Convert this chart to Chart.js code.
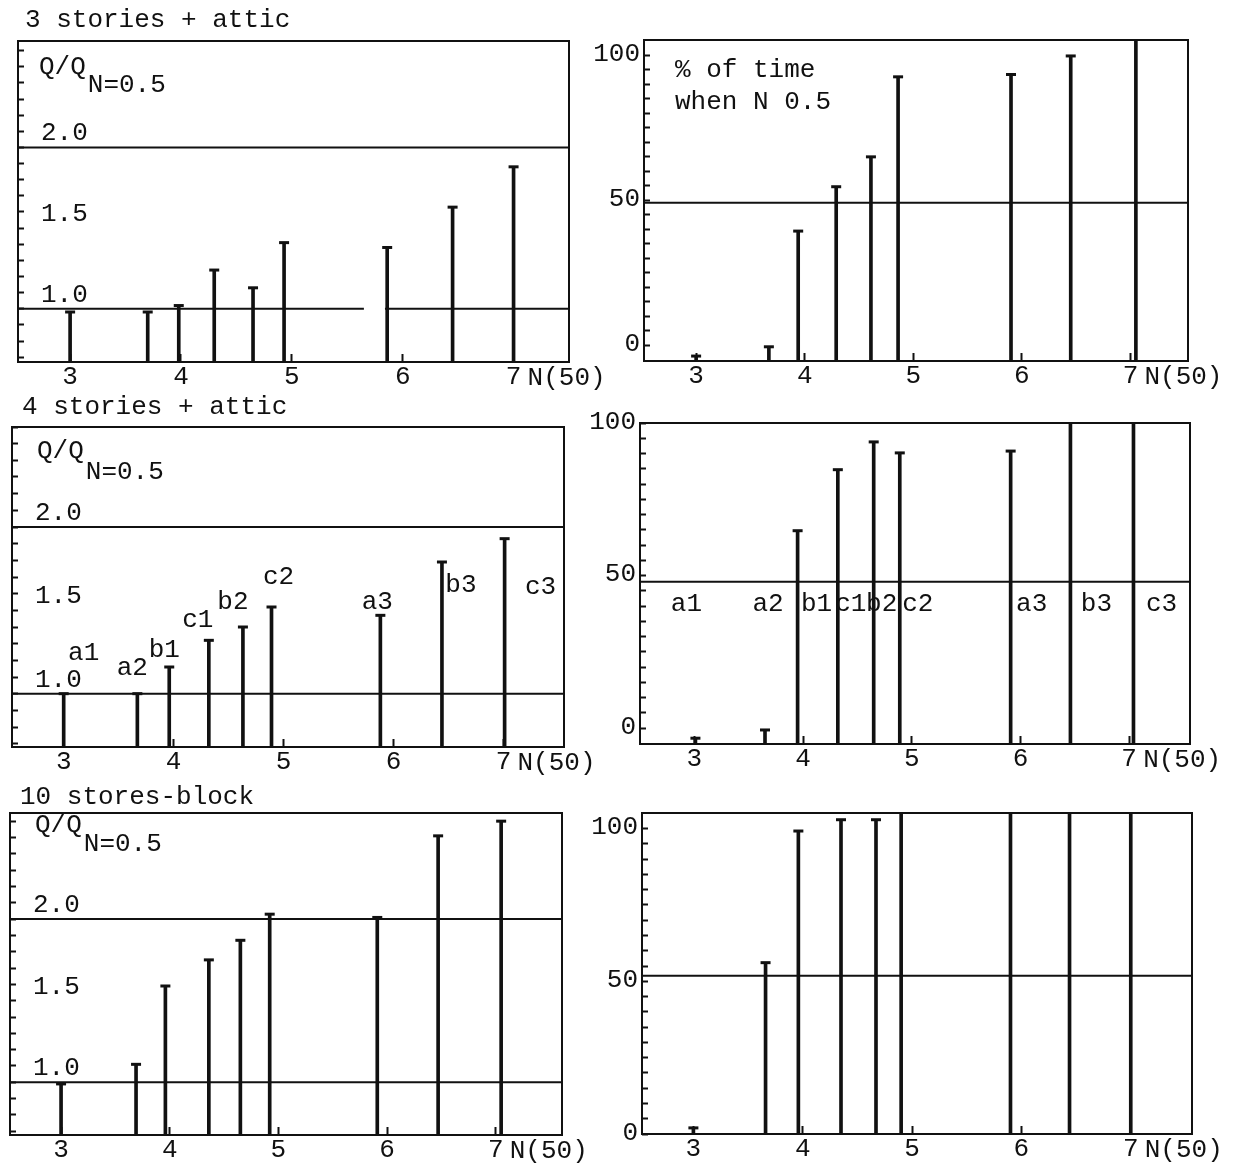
<!DOCTYPE html>
<html>
<head>
<meta charset="utf-8">
<title>Q/Q N=0.5 and % of time vs N(50)</title>
<script src="https://cdn.jsdelivr.net/npm/chart.js@4.4.1/dist/chart.umd.min.js"></script>
<style>
    html, body { margin: 0; padding: 0; background: #fff; }
    #sheet { position: relative; width: 1238px; height: 1168px; overflow: hidden; background: #fff; }
    #sheet canvas { position: absolute; }
</style>
</head>
<body>
<div id="sheet"></div>
<script>
/* ================================
   DATA
================================ */
const spikeNames = ['a1', 'a2', 'b1', 'c1', 'b2', 'c2', 'a3', 'b3', 'c3'];
const xTickValues = [3, 4, 5, 6, 7];
const ratioTickValues = [1.0, 1.5, 2.0];
const timeTickValues = [0, 50, 100];
const ratioRefLevels = [1.0, 2.0];

// 3 stories + attic
const n50Ratio3 = [3.00, 3.70, 3.98, 4.30, 4.65, 4.93, 5.86, 6.45, 7.00];
const qRatio3   = [0.98, 0.98, 1.02, 1.24, 1.13, 1.41, 1.38, 1.63, 1.88];
const ratio3Gap = [5.65, 5.84];   // the 1.0 line is broken here
const n50Time3  = [3.00, 3.67, 3.94, 4.29, 4.61, 4.86, 5.90, 6.45, 7.05];
const pctTime3  = [-3.8, -0.6, 39.3, 54.6, 64.9, 92.5, 93.3, 99.7, 106];
const timeRef3  = 49.1;

// 4 stories + attic
const n50Ratio4 = [3.00, 3.67, 3.96, 4.32, 4.63, 4.89, 5.88, 6.44, 7.01];
const qRatio4   = [1.00, 1.00, 1.16, 1.32, 1.40, 1.52, 1.47, 1.79, 1.93];
const n50Time4  = [3.01, 3.65, 3.95, 4.32, 4.65, 4.89, 5.91, 6.46, 7.04];
const pctTime4  = [-3.3, -0.6, 64.7, 84.7, 93.8, 90.2, 90.8, 100, 100];
const timeRef4  = 48.0;

// 10 stores-block
const n50Ratio10 = [3.00, 3.69, 3.96, 4.36, 4.65, 4.92, 5.91, 6.47, 7.05];
const qRatio10   = [0.99, 1.11, 1.59, 1.75, 1.87, 2.03, 2.01, 2.51, 2.60];
const n50Time10  = [3.00, 3.66, 3.96, 4.35, 4.67, 4.90, 5.90, 6.44, 7.00];
const pctTime10  = [2.0, 56.1, 99.2, 102.9, 102.9, 106, 106, 106, 106];
const timeRef10  = 51.8;

/* ================================
   LAYOUT / STYLE
================================ */
const INK = '#111';
const FAMILY = '"Liberation Mono", "DejaVu Sans Mono", monospace';
const FONT_PX = 26;
Chart.defaults.font.family = FAMILY;
Chart.defaults.color = INK;

// box / canvas are page pixels: box = [left, top, right, bottom], canvas = [left, top, width, height]
// (axis ranges must not be a whole number of steps wide, or Chart.js re-spaces the ticks)
const panels = [
    { id: 'ratio3', kind: 'ratio', xs: n50Ratio3, ys: qRatio3, refs: ratioRefLevels, gap: ratio3Gap,
      xRange: [2.53, 7.50], yRange: [0.67, 2.66],
      box: [18, 41, 569, 362], canvas: [0, 0, 625, 396],
      title: '3 stories + attic', titleAt: [7, -21], noteAt: [21, 26, 18] },
    { id: 'time3', kind: 'time', xs: n50Time3, ys: pctTime3, refs: [timeRef3],
      xRange: [2.52, 7.53], yRange: [-5.5, 105.2],
      box: [644, 40, 1188, 361], canvas: [585, 0, 653, 396],
      note: ['% of time', 'when N 0.5'], noteAt: [31, 30, 32] },
    { id: 'ratio4', kind: 'ratio', xs: n50Ratio4, ys: qRatio4, refs: ratioRefLevels,
      xRange: [2.53, 7.55], yRange: [0.68, 2.60],
      box: [12, 427, 564, 747], canvas: [0, 388, 625, 398],
      title: '4 stories + attic', titleAt: [10, -20], noteAt: [25, 24, 21],
      names: { anchor: 'top', dx: [20, -5, -5, -11, -10, 7, -3, 19, 36], dy: [-41, -26, -17, -20, -25, -30, -13, 23, 48] } },
    { id: 'time4', kind: 'time', xs: n50Time4, ys: pctTime4, refs: [timeRef4],
      xRange: [2.50, 7.56], yRange: [-5.2, 100],
      box: [640, 423, 1190, 744], canvas: [585, 388, 653, 398],
      names: { anchor: 'line', dx: [-9, 3, 19, 13, 8, 18, 21, 26, 28], dy: [22, 22, 22, 22, 22, 22, 22, 22, 22] } },
    { id: 'ratio10', kind: 'ratio', xs: n50Ratio10, ys: qRatio10, refs: ratioRefLevels,
      xRange: [2.53, 7.61], yRange: [0.677, 2.65],
      box: [10, 813, 562, 1135], canvas: [0, 778, 625, 390],
      title: '10 stores-block', titleAt: [10, -16], noteAt: [25, 12, 19] },
    { id: 'time10', kind: 'time', xs: n50Time10, ys: pctTime10, refs: [timeRef10],
      xRange: [2.53, 7.56], yRange: [0, 105.1],
      box: [642, 813, 1192, 1134], canvas: [585, 778, 653, 390] }
];

const near = (v, list) => list.some(t => Math.abs(v - t) < 1e-6);

/* ================================
   TEXT + FRAME PLUGIN
================================ */
function sheetPlugin(p) {
    return {
        id: 'sheet_' + p.id,
        afterDatasetsDraw(chart) {
            const { ctx, chartArea: a, scales } = chart;
            ctx.save();
            ctx.strokeStyle = INK;
            ctx.lineWidth = 2;
            ctx.strokeRect(a.left, a.top, a.right - a.left, a.bottom - a.top);

            ctx.fillStyle = INK;
            ctx.font = FONT_PX + 'px ' + FAMILY;
            ctx.textBaseline = 'middle';
            ctx.textAlign = 'left';

            if (p.title) ctx.fillText(p.title, a.left + p.titleAt[0], a.top + p.titleAt[1]);
            ctx.fillText('N(50)', scales.x.getPixelForValue(7) + 14, a.bottom + 16);

            if (p.kind === 'ratio') {
                const x0 = a.left + p.noteAt[0], y0 = a.top + p.noteAt[1];
                ctx.fillText('Q/Q', x0, y0);
                ctx.fillText('N=0.5', x0 + ctx.measureText('Q/Q').width + 2, y0 + p.noteAt[2]);
            } else if (p.note) {
                p.note.forEach((line, i) => ctx.fillText(line, a.left + p.noteAt[0], a.top + p.noteAt[1] + i * p.noteAt[2]));
            }

            if (p.names) {
                ctx.textAlign = 'center';
                const lineY = scales.y.getPixelForValue(p.refs[0]);
                spikeNames.forEach((name, i) => {
                    const px = scales.x.getPixelForValue(p.xs[i]);
                    const py = p.names.anchor === 'top' ? scales.y.getPixelForValue(p.ys[i]) : lineY;
                    ctx.fillText(name, px + p.names.dx[i], py + p.names.dy[i]);
                });
            }
            ctx.restore();
        }
    };
}

/* ================================
   CHARTS
================================ */
function buildPanel(p) {
    const [cl, ct, cw, ch] = p.canvas;
    const [bl, bt, br, bb] = p.box;
    const canvas = document.createElement('canvas');
    canvas.width = cw;
    canvas.height = ch;
    canvas.style.left = cl + 'px';
    canvas.style.top = ct + 'px';
    document.getElementById('sheet').appendChild(canvas);

    const [xMin, xMax] = p.xRange;
    const [yMin, yMax] = p.yRange;
    const isRatio = p.kind === 'ratio';

    // axis boxes take the whole margin so their labels are not clipped away
    const xAxisHeight = ct + ch - bb;
    const yAxisWidth = isRatio ? 0 : bl - cl;

    const points = p.xs.map((x, i) => ({ x, y: p.ys[i] }));
    const caps = points.filter(pt => pt.y < yMax - 0.01 * (yMax - yMin));

    const refSets = [];
    p.refs.forEach(level => {
        const spans = (p.gap && level === 1.0) ? [[xMin, p.gap[0]], [p.gap[1], xMax]] : [[xMin, xMax]];
        spans.forEach(([from, to]) => refSets.push({
            type: 'line',
            data: [{ x: from, y: level }, { x: to, y: level }],
            borderColor: INK,
            borderWidth: 2,
            pointRadius: 0,
            clip: 0
        }));
    });

    const font = { family: FAMILY, size: FONT_PX };

    new Chart(canvas, {
        type: 'bar',
        data: {
            datasets: [
                {
                    type: 'bar',
                    data: points,
                    base: yMin,
                    backgroundColor: INK,
                    borderWidth: 0,
                    barThickness: 3,
                    grouped: false,
                    clip: 0
                },
                {
                    type: 'line',
                    data: caps,
                    showLine: false,
                    pointStyle: 'line',
                    pointRadius: 5,
                    pointBorderWidth: 3,
                    pointBorderColor: INK,
                    borderColor: INK,
                    clip: 0
                },
                ...refSets
            ]
        },
        options: {
            responsive: false,
            animation: false,
            events: [],
            layout: {
                autoPadding: false,
                padding: { left: bl - cl - yAxisWidth, top: bt - ct, right: cl + cw - br, bottom: 0 }
            },
            plugins: { legend: { display: false }, tooltip: { enabled: false } },
            scales: {
                x: {
                    type: 'linear',
                    min: xMin,
                    max: xMax,
                    offset: false,
                    grid: { offset: false, drawOnChartArea: false, tickLength: -8, tickWidth: 2, tickColor: INK },
                    border: { display: false },
                    ticks: {
                        stepSize: 1,
                        includeBounds: false,
                        autoSkip: false,
                        maxRotation: 0,
                        padding: 8,
                        color: INK,
                        font,
                        callback: v => near(v, xTickValues) ? String(Math.round(v)) : ''
                    },
                    afterFit: s => { s.height = xAxisHeight; s.paddingLeft = 0; s.paddingRight = 0; }
                },
                y: {
                    type: 'linear',
                    min: yMin,
                    max: yMax,
                    beginAtZero: false,
                    grid: {
                        drawOnChartArea: false,
                        tickLength: -6,
                        tickWidth: 2,
                        tickColor: c => (!isRatio && c.tick && (c.tick.value < 0 || c.tick.value > 100)) ? 'rgba(0,0,0,0)' : INK
                    },
                    border: { display: false },
                    ticks: {
                        stepSize: isRatio ? 0.1 : 5,
                        includeBounds: false,
                        autoSkip: false,
                        mirror: isRatio,
                        padding: isRatio ? 23 : 10,
                        labelOffset: isRatio ? -14 : -1,
                        color: INK,
                        font,
                        callback: v => isRatio
                            ? (near(v, ratioTickValues) ? v.toFixed(1) : '')
                            : (near(v, timeTickValues) ? String(Math.round(v)) : '')
                    },
                    afterFit: s => { s.width = yAxisWidth; s.paddingTop = 0; s.paddingBottom = 0; }
                }
            }
        },
        plugins: [sheetPlugin(p)]
    });
}

panels.forEach(buildPanel);
</script>
</body>
</html>
